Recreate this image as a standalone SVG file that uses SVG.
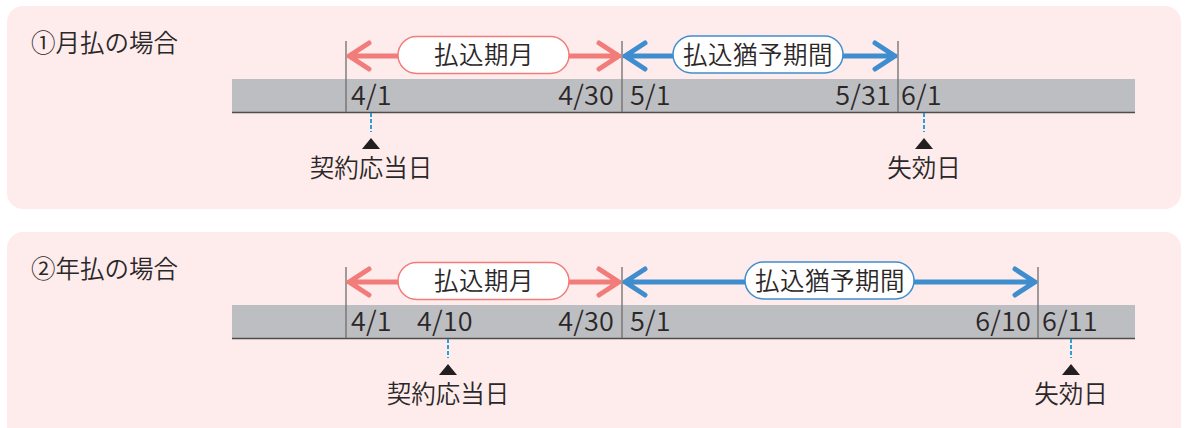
<svg xmlns="http://www.w3.org/2000/svg" width="1188" height="428" viewBox="0 0 1188 428">
<style>
.panel{fill:#fdeceb}
.bar{fill:#bdbec1}
.base{stroke:#4d4d4d;stroke-width:1.5}
.tick{stroke:#6e6e6e;stroke-width:1.3}
.t{font-family:"Noto Sans CJK JP","Noto Sans",sans-serif;fill:#2b2728;font-weight:350}
.title{font-size:24.5px}
.date{font-size:27px;letter-spacing:0.2px}
.lbl{font-size:24.5px;text-anchor:middle}
.pill{font-size:24.5px;text-anchor:middle;letter-spacing:0.5px}
.pink{stroke:#f17c7a;stroke-width:5;stroke-linecap:round;stroke-linejoin:round;fill:none}
.blue{stroke:#3f8dcf;stroke-width:5;stroke-linecap:round;stroke-linejoin:round;fill:none}
.pillp{fill:#fff;stroke:#f17c7a;stroke-width:1.5}
.pillb{fill:#fff;stroke:#3f8dcf;stroke-width:1.5}
.dash{stroke:#27a0dd;stroke-width:2;stroke-dasharray:4 2}
.tri{fill:#231f20}
</style>
<g id="panel1">
<rect class="panel" x="7" y="6" width="1174" height="203" rx="16"/>
<text class="t title" x="31" y="52">①月払の場合</text>
<rect class="bar" x="232" y="79" width="903" height="33.5"/>
<line class="base" x1="232" y1="112.5" x2="1135" y2="112.5"/>
<text class="t date" x="351" y="104.5">4/1</text>
<text class="t date" x="614" y="104.5" text-anchor="end">4/30</text>
<text class="t date" x="630" y="104.5">5/1</text>
<text class="t date" x="891" y="104.5" text-anchor="end">5/31</text>
<text class="t date" x="901" y="104.5">6/1</text>
</g>
<g id="panel2">
<rect class="panel" x="7" y="232" width="1174" height="210" rx="16"/>
<text class="t title" x="31" y="278">②年払の場合</text>
<rect class="bar" x="232" y="305" width="903" height="33.5"/>
<line class="base" x1="232" y1="338.5" x2="1135" y2="338.5"/>
<text class="t date" x="351" y="330.5">4/1</text>
<text class="t date" x="417" y="330.5">4/10</text>
<text class="t date" x="614" y="330.5" text-anchor="end">4/30</text>
<text class="t date" x="630" y="330.5">5/1</text>
<text class="t date" x="1031" y="330.5" text-anchor="end">6/10</text>
<text class="t date" x="1042" y="330.5">6/11</text>
</g>
<g id="connectors">
<line class="tick" x1="346" y1="41" x2="346" y2="112"/>
<line class="tick" x1="622" y1="41" x2="622" y2="112"/>
<line class="tick" x1="898" y1="41" x2="898" y2="112"/>
<line class="tick" x1="346" y1="267" x2="346" y2="338"/>
<line class="tick" x1="622" y1="267" x2="622" y2="338"/>
<line class="tick" x1="1038" y1="267" x2="1038" y2="338"/>
<path class="pink" d="M349 56H619M369 43L349 56L369 69M599 43L619 56L599 69"/>
<path class="blue" d="M625 56H895M645 43L625 56L645 69M875 43L895 56L875 69"/>
<path class="pink" d="M349 282H619M369 269L349 282L369 295M599 269L619 282L599 295"/>
<path class="blue" d="M625 282H1035M645 269L625 282L645 295M1015 269L1035 282L1015 295"/>
<line class="dash" x1="371" y1="113" x2="371" y2="132"/>
<line class="dash" x1="924" y1="113" x2="924" y2="132"/>
<line class="dash" x1="448" y1="339" x2="448" y2="358"/>
<line class="dash" x1="1071" y1="339" x2="1071" y2="358"/>
</g>
<g id="label-pay1">
<rect class="pillp" x="398" y="36.5" width="171" height="37" rx="18.5"/>
<text class="t pill" x="484" y="64">払込期月</text>
</g>
<g id="label-grace1">
<rect class="pillb" x="673" y="36" width="170" height="37" rx="18.5"/>
<text class="t pill" x="758" y="64">払込猶予期間</text>
</g>
<g id="label-pay2">
<rect class="pillp" x="398" y="262.5" width="171" height="37" rx="18.5"/>
<text class="t pill" x="484" y="290">払込期月</text>
</g>
<g id="label-grace2">
<rect class="pillb" x="745" y="262" width="169" height="37" rx="18.5"/>
<text class="t pill" x="830" y="290">払込猶予期間</text>
</g>
<g id="marker-contract1">
<polygon class="tri" points="371,138 362,149 380,149"/>
<text class="t lbl" x="371" y="177">契約応当日</text>
</g>
<g id="marker-lapse1">
<polygon class="tri" points="924,138 915,149 933,149"/>
<text class="t lbl" x="924" y="177">失効日</text>
</g>
<g id="marker-contract2">
<polygon class="tri" points="448,364 439,375 457,375"/>
<text class="t lbl" x="448" y="403">契約応当日</text>
</g>
<g id="marker-lapse2">
<polygon class="tri" points="1071,364 1062,375 1080,375"/>
<text class="t lbl" x="1071" y="403">失効日</text>
</g>
</svg>
